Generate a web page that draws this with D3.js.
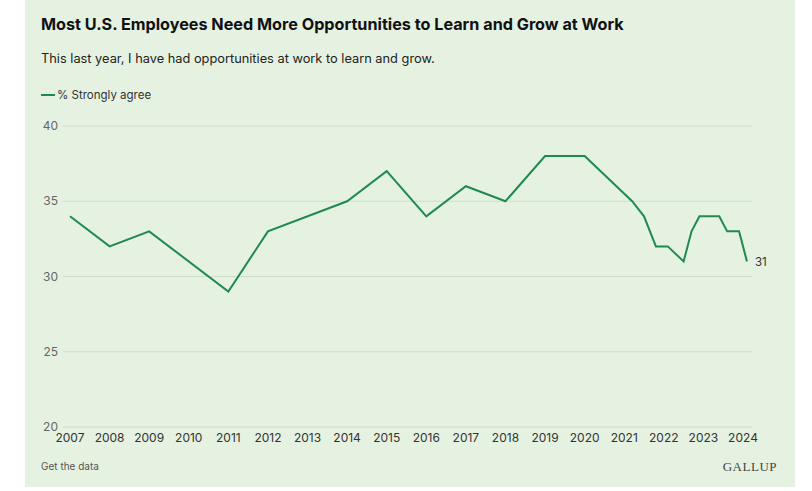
<!DOCTYPE html><html><head><meta charset="utf-8"><script src="https://cdn.jsdelivr.net/npm/d3@7"></script>
<style>body{margin:0;background:#fff;font-family:Inter,"Noto Sans",sans-serif}</style></head><body><svg id="c" width="812" height="491"></svg><script>
const years=[2007,2008,2009,2011,2012,2014,2015,2016,2017,2018,2019,2020,2021.2,2021.5,2021.8,2022.1,2022.5,2022.7,2022.9,2023.4,2023.6,2023.9,2024.1];
const values=[34,32,33,29,33,35,37,34,36,35,38,38,35,34,32,32,31,33,34,34,33,33,31];
const xTicks=d3.range(2007,2025);
const yTicks=[20,25,30,35,40];
const svg=d3.select("#c");
svg.append("rect").attr("x",25).attr("y",0).attr("width",770).attr("height",487).attr("fill","#e5f2e1");
svg.append("text").attr("x",41).attr("y",30).attr("font-size",16.2).attr("font-weight",700).attr("fill","#111").text("Most U.S. Employees Need More Opportunities to Learn and Grow at Work");
svg.append("text").attr("x",41).attr("y",63).attr("font-size",12.8).attr("fill","#222").text("This last year, I have had opportunities at work to learn and grow.");
svg.append("line").attr("x1",41).attr("x2",55).attr("y1",95).attr("y2",95).attr("stroke","#1f8a4f").attr("stroke-width",2);
svg.append("text").attr("x",57).attr("y",99).attr("font-size",11.5).attr("fill","#333").text("% Strongly agree");
const x=d3.scaleLinear().domain([2007,2024]).range([70,743]);
const y=d3.scaleLinear().domain([20,40]).range([427,126]);
const g=svg.append("g");
yTicks.forEach(t=>{
 g.append("line").attr("x1",63).attr("x2",752).attr("y1",y(t)).attr("y2",y(t)).attr("stroke","#cfdccb").attr("stroke-width",1);
 g.append("text").attr("x",58).attr("y",y(t)+4).attr("text-anchor","end").attr("font-size",12).attr("fill","#666").text(t);
});
xTicks.forEach(t=>g.append("text").attr("x",x(t)).attr("y",442).attr("text-anchor","middle").attr("font-size",12).attr("fill","#333").text(t));
g.append("path").datum(years.map((d,i)=>[d,values[i]])).attr("fill","none").attr("stroke","#1f8a4f").attr("stroke-width",2)
 .attr("d",d3.line().x(d=>x(d[0])).y(d=>y(d[1])));
g.append("text").attr("x",x(years[years.length-1])+8).attr("y",y(values[values.length-1])+5).attr("font-size",11.5).attr("fill","#333").text(values[values.length-1]);
svg.append("text").attr("x",41).attr("y",470).attr("font-size",10).attr("fill","#555").text("Get the data");
svg.append("text").attr("x",777).attr("y",471).attr("text-anchor","end").attr("font-size",13).attr("font-family","'Liberation Serif',serif").attr("letter-spacing",0.5).attr("fill","#444").text("GALLUP");
</script></body></html>
